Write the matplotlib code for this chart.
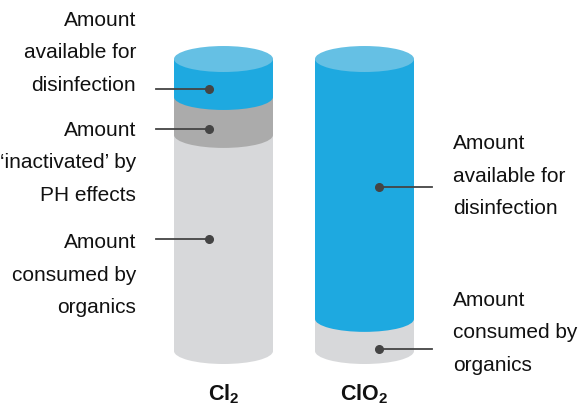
import matplotlib.pyplot as plt
from matplotlib.patches import Ellipse, Rectangle

plt.rcParams['font.family'] = ['Liberation Sans', 'DejaVu Sans']
plt.rcParams['mathtext.fontset'] = 'custom'
plt.rcParams['mathtext.bf'] = 'Liberation Sans:bold'
plt.rcParams['mathtext.rm'] = 'Liberation Sans'

# data: share of disinfectant (%), stacked bottom -> top
categories = [r'$\mathbf{Cl_2}$', r'$\mathbf{ClO_2}$']
segment_names = [
    ['Amount\nconsumed by\norganics', 'Amount\n\u2018inactivated\u2019 by\nPH effects', 'Amount\navailable for\ndisinfection'],
    ['Amount\nconsumed by\norganics', 'Amount\navailable for\ndisinfection'],
]
segment_values = [
    [74, 13, 13],
    [11, 89],
]
segment_colors = [
    ['#d7d8da', '#ababab', '#1ea9e0'],
    ['#d7d8da', '#1ea9e0'],
]
top_color = '#65c0e4'

# layout
x_centers = [223.5, 364.5]
cyl_width = 99
ell_h = 8.9          # full ellipse height in data units
label_side = [['left', 'left', 'left'], ['right', 'right']]
dot_y = [[38.4, 76, 89.7], [0.7, 56.2]]
text_y = [[26.0, 64.4, 102.1], [6.2, 59.9]]
line_col = '#444444'

fig = plt.figure(figsize=(5.84, 4.08), dpi=100)
ax = fig.add_axes([0, 0, 1, 1])
ax.set_xlim(0, 584)
ax.set_ylim(-19.52, 120.21)
ax.axis('off')

for i, vals in enumerate(segment_values):
    xc = x_centers[i]
    bottom = 0
    for j, v in enumerate(vals):
        col = segment_colors[i][j]
        ax.add_patch(Ellipse((xc, bottom), cyl_width, ell_h, color=col, lw=0))
        ax.add_patch(Rectangle((xc - cyl_width / 2, bottom), cyl_width, v, color=col, lw=0))
        bottom += v
    ax.add_patch(Ellipse((xc, bottom), cyl_width, ell_h, color=top_color, lw=0))

    for j, name in enumerate(segment_names[i]):
        dy = dot_y[i][j]
        if label_side[i][j] == 'left':
            dx = xc - 14.5
            ax.plot([156, dx], [dy, dy], color=line_col, lw=1.3, zorder=4)
            ax.text(136, text_y[i][j], name, ha='right', va='center', fontsize=15,
                    linespacing=1.9, color='#111111')
        else:
            dx = xc + 14.5
            ax.plot([dx, 432], [dy, dy], color=line_col, lw=1.3, zorder=4)
            ax.text(453, text_y[i][j], name, ha='left', va='center', fontsize=15,
                    linespacing=1.9, color='#111111')
        ax.plot(dx, dy, 'o', color=line_col, ms=5.5, zorder=5)

    ax.text(xc, -14.8, categories[i], ha='center', va='center', fontsize=15.5, color='#111111')

fig.savefig('out.png', dpi=100)
